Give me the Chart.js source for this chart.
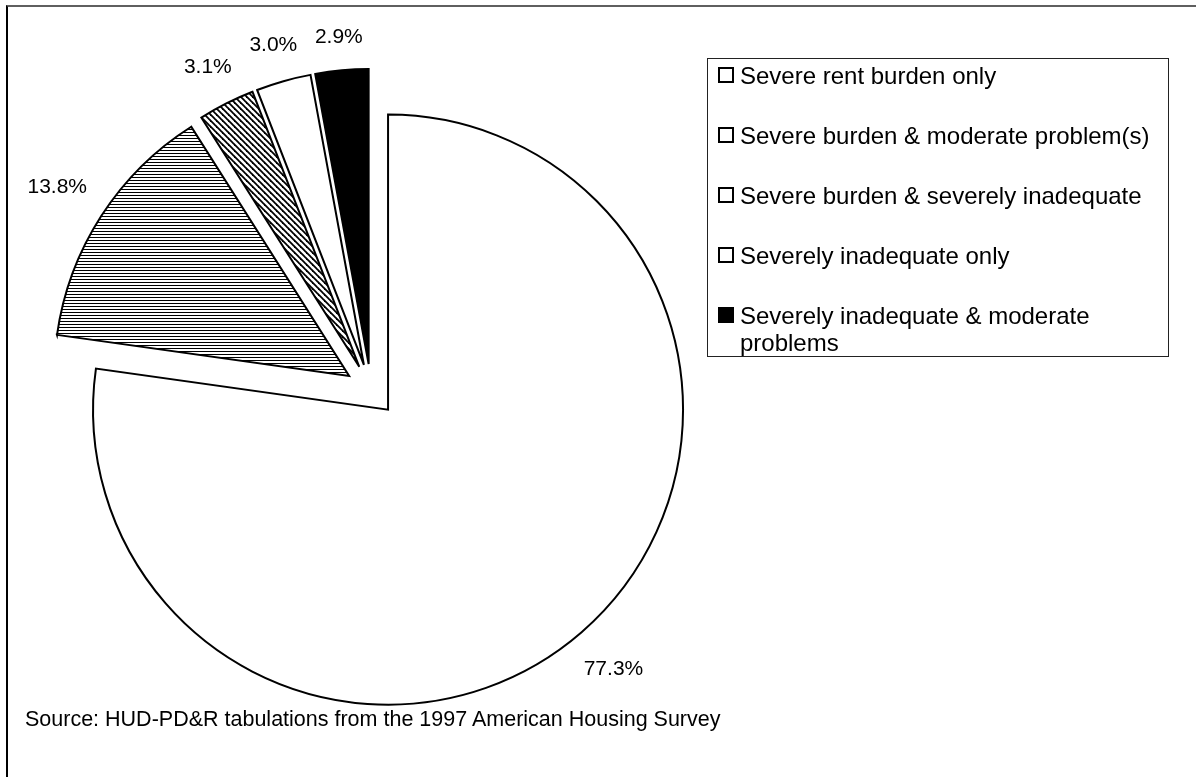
<!DOCTYPE html>
<html>
<head>
<meta charset="utf-8">
<script src="https://cdn.jsdelivr.net/npm/chart.js@4.4.0/dist/chart.umd.min.js"></script>
<style>
html,body{margin:0;padding:0;background:#fff;width:1196px;height:777px;overflow:hidden;font-family:"Liberation Sans",Arial,sans-serif;color:#000;}
#frame{position:absolute;left:6px;top:5px;width:1300px;height:900px;border-top:2px solid #5f5f5f;border-left:2px solid #000;box-sizing:border-box;}
#chart{position:absolute;left:0;top:0;}
#legend{position:absolute;left:707px;top:58px;width:462px;height:299px;border:1px solid #222;box-sizing:border-box;padding-top:3px;}
.item{position:relative;padding-left:32px;font-size:24px;line-height:27px;margin-bottom:33px;width:420px;}
.sw{position:absolute;left:10px;top:5px;width:16px;height:16px;border:2px solid #000;box-sizing:border-box;}
#source{position:absolute;left:25px;top:707px;font-size:21.5px;line-height:24px;white-space:nowrap;}
</style>
</head>
<body>
<div id="frame"></div>
<canvas id="chart" width="1196" height="777"></canvas>
<div id="legend"></div>
<div id="source"></div>
<script>
const categories = [
  "Severe rent burden only",
  "Severe burden & moderate problem(s)",
  "Severe burden & severely inadequate",
  "Severely inadequate only",
  "Severely inadequate & moderate problems"
];
const shares = [77.3, 13.8, 3.1, 3.0, 2.9];
const percentLabels = ["77.3%", "13.8%", "3.1%", "3.0%", "2.9%"];
const legendSwatches = ["#ffffff", "#ffffff", "#ffffff", "#ffffff", "#000000"];
const sourceNote = "Source: HUD-PD&R tabulations from the 1997 American Housing Survey";

function makePattern(kind) {
  const c = document.createElement('canvas');
  const ctx = c.getContext('2d');
  if (kind === 'h') {
    c.width = 4; c.height = 3;
    ctx.fillStyle = '#fff'; ctx.fillRect(0, 0, 4, 3);
    ctx.fillStyle = '#000'; ctx.fillRect(0, 0, 4, 1);
  } else {
    c.width = 6; c.height = 6;
    ctx.fillStyle = '#fff'; ctx.fillRect(0, 0, 6, 6);
    ctx.strokeStyle = '#000'; ctx.lineWidth = 1.8;
    for (const k of [-6, 0, 6]) {
      ctx.beginPath(); ctx.moveTo(-1, k - 1); ctx.lineTo(7, k + 7); ctx.stroke();
    }
  }
  return document.getElementById('chart').getContext('2d').createPattern(c, 'repeat');
}

const fills = ['#ffffff', makePattern('h'), makePattern('d'), '#ffffff', '#000000'];

const explodePlugin = {
  id: 'explode',
  afterDatasetsUpdate(chart, args, opts) {
    chart.getDatasetMeta(0).data.forEach(arc => {
      const mid = (arc.startAngle + arc.endAngle) / 2;
      arc.x += Math.cos(mid) * opts.distance;
      arc.y += Math.sin(mid) * opts.distance;
    });
  }
};

const labelPlugin = {
  id: 'pctLabels',
  afterDatasetsDraw(chart, args, opts) {
    const ctx = chart.ctx;
    ctx.save();
    ctx.font = '21px "Liberation Sans", Arial, sans-serif';
    ctx.fillStyle = '#000';
    ctx.textAlign = 'center';
    ctx.textBaseline = 'middle';
    chart.getDatasetMeta(0).data.forEach((arc, i) => {
      const mid = (arc.startAngle + arc.endAngle) / 2;
      const cx = Math.cos(mid), sy = Math.sin(mid);
      const hw = ctx.measureText(percentLabels[i]).width / 2;
      const r = arc.outerRadius + opts.gap + Math.abs(cx) * hw + Math.abs(sy) * opts.halfHeight;
      ctx.fillText(percentLabels[i], arc.x + cx * r, arc.y + sy * r);
    });
    ctx.restore();
  }
};

new Chart(document.getElementById('chart'), {
  type: 'pie',
  data: {
    labels: categories,
    datasets: [{
      data: shares,
      backgroundColor: fills,
      borderColor: '#000',
      borderWidth: 2,
      borderJoinStyle: 'miter'
    }]
  },
  options: {
    responsive: false,
    animation: false,
    events: [],
    radius: 295,
    layout: { padding: { left: 0, right: 454, top: 3, bottom: 0 } },
    plugins: {
      legend: { display: false },
      tooltip: { enabled: false },
      explode: { distance: 26 },
      pctLabels: { gap: 23, halfHeight: 8 }
    }
  },
  plugins: [explodePlugin, labelPlugin]
});

const legend = document.getElementById('legend');
categories.forEach((name, i) => {
  const d = document.createElement('div');
  d.className = 'item';
  const sw = document.createElement('span');
  sw.className = 'sw';
  sw.style.background = legendSwatches[i];
  d.appendChild(sw);
  d.appendChild(document.createTextNode(name));
  legend.appendChild(d);
});
document.getElementById('source').textContent = sourceNote;
</script>
</body>
</html>
